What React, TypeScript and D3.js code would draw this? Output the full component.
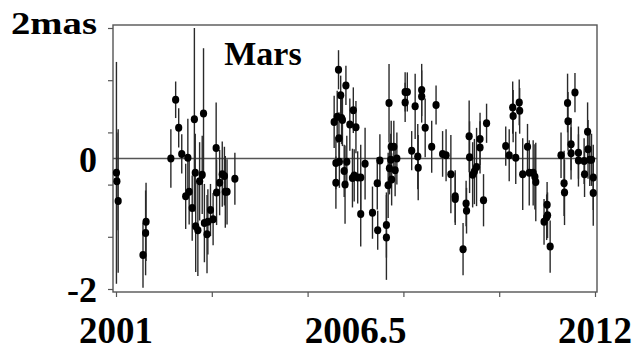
import * as d3 from 'd3';
import { useEffect, useRef } from 'react';

const TITLE = 'Mars';

// observation epochs (years)
const years: number[] = [
    2001.01, 2001.02, 2001.05,
    2001.62, 2001.68, 2001.69,
    2002.26, 2002.37, 2002.44, 2002.51, 2002.60, 2002.65, 2002.68, 2002.75, 2002.80, 2002.82,
    2002.83, 2002.88, 2002.92, 2002.98, 2003.01, 2003.03, 2003.09, 2003.11, 2003.17, 2003.23,
    2003.30, 2003.31, 2003.38, 2003.44, 2003.49, 2003.51, 2003.55, 2003.73,
    2006.01, 2006.05, 2006.05, 2006.08, 2006.11, 2006.12, 2006.13, 2006.16, 2006.18, 2006.20,
    2006.24, 2006.26, 2006.28, 2006.30, 2006.37, 2006.43, 2006.45, 2006.47, 2006.51, 2006.55,
    2006.62, 2006.62, 2006.72, 2006.89, 2007.00, 2007.01, 2007.06, 2007.21, 2007.21, 2007.25,
    2007.27, 2007.28, 2007.31, 2007.32, 2007.33, 2007.38, 2007.41, 2007.45, 2007.64, 2007.64,
    2007.69, 2007.79, 2007.87, 2007.93, 2007.94,
    2008.02, 2008.02, 2008.10, 2008.25, 2008.35, 2008.50, 2008.58, 2008.69, 2008.79, 2008.79,
    2008.97, 2009.04, 2009.05, 2009.11, 2009.12, 2009.19, 2009.23, 2009.28, 2009.36, 2009.36,
    2009.44, 2009.51,
    2009.95, 2010.03, 2010.11, 2010.12, 2010.18, 2010.26, 2010.27, 2010.34, 2010.45, 2010.49,
    2010.58, 2010.62, 2010.64, 2010.83, 2010.89, 2010.90, 2010.91, 2010.97, 2011.22, 2011.29,
    2011.30, 2011.37, 2011.38, 2011.45, 2011.45, 2011.54, 2011.62, 2011.62, 2011.75, 2011.76,
    2011.83, 2011.84, 2011.88, 2011.92, 2011.96, 2011.96,
];

// residuals (mas)
const values: number[] = [
    -0.22, -0.35, -0.65,
    -1.48, -1.14, -0.97,
    0.0, 0.9, 0.47, 0.07, -0.58, 0.01, -0.51, -0.76, 0.6, -0.22,
    -1.04, -1.1, -0.35, -0.25, 0.69, -0.99, -1.16, -0.97, -0.79, -0.93,
    0.16, -0.52, -0.37, -0.24, -0.27, -0.51, -0.51, -0.31,
    0.56, -0.07, -0.37, 0.64, 1.36, 0.31, -0.05, 0.97, 0.62, 0.59,
    -0.19, -0.4, 1.12, -0.05, 0.52, -0.3, 0.74, -0.26, 0.48, -0.29,
    -0.29, -0.85, -0.08, -0.83, -0.38, -1.1, -0.03, -1.02, -1.21, -0.41,
    0.85, -0.15, -0.02, 0.18, -0.32, 0.18, -0.18, 0.0, 1.02, 0.86,
    1.02, 0.12, 0.8, 0.03, -0.14,
    1.05, 0.95, 0.47, 0.18, 0.82, 0.07, 0.05, -0.24, -0.58, -0.62,
    -1.39, -0.69, -0.8, 0.34, 0.02, -0.25, -0.2, -0.13, 0.17, 0.3,
    -0.64, 0.54,
    0.19, 0.05, 0.78, 0.65, 0.01, 0.86, 0.73, -0.24, 0.18, -0.22,
    -0.22, -0.28, -0.36, -0.97, -0.9, -0.71, -0.87, -1.35, 0.05, -0.38,
    -0.52, 0.85, 0.57, 0.22, 0.08, 1.01, 0.09, -0.03, -0.04, -0.24,
    0.41, 0.14, -0.02, -0.02, -0.29, -0.53,
];

// half-length of error bars (mas)
const errors: number[] = [
    1.7, 0.75, 1.1,
    0.5, 0.65, 0.6,
    0.45, 0.28, 0.3, 0.3, 0.5, 0.6, 0.5, 0.5, 1.4, 0.6,
    0.7, 0.7, 0.6, 0.6, 1.0, 0.6, 0.6, 0.5, 0.4, 0.4,
    0.7, 0.5, 0.5, 0.5, 0.45, 0.55, 0.5, 0.4,
    0.4, 0.4, 0.4, 0.4, 0.3, 0.4, 0.4, 0.3, 0.4, 0.4,
    0.4, 0.6, 0.3, 0.4, 0.4, 0.45, 0.35, 0.4, 0.4, 0.4,
    0.5, 0.5, 0.55, 0.4, 0.4, 0.3, 0.4, 0.5, 0.65, 0.5,
    0.6, 0.4, 0.4, 0.4, 0.4, 0.4, 0.4, 0.4, 0.3, 0.3,
    0.3, 0.3, 0.5, 0.5, 0.5,
    0.4, 0.4, 0.45, 0.4, 0.3, 0.35, 0.4, 0.6, 0.4, 0.4,
    0.4, 0.35, 0.35, 0.55, 0.55, 0.5, 0.5, 0.6, 0.4, 0.4,
    0.4, 0.3,
    0.3, 0.4, 0.4, 0.4, 0.4, 0.35, 0.35, 0.55, 0.35, 0.5,
    0.5, 0.5, 0.6, 0.35, 0.35, 0.35, 0.35, 0.4, 0.35, 0.5,
    0.5, 0.45, 0.45, 0.4, 0.4, 0.3, 0.4, 0.4, 0.35, 0.35,
    0.45, 0.45, 0.4, 0.4, 0.5, 0.5,
];

const xTickValues = [2001, 2003.2, 2005.4, 2007.6, 2009.8, 2012];
const yTickValues = [2, 1.2, 0.4, -0.4, -1.2, -2];
const xLabels = [2001, 2006.5, 2012];
const yLabels = [2, 0, -2];

const FONT = '"Liberation Serif", "Times New Roman", serif';

export default function App() {
    const ref = useRef<any>();

    useEffect(() => {
        const svg = d3.select<any, any>(ref.current);
        svg.selectAll('*').remove();

        const frame = { left: 113, right: 597, top: 25, bottom: 292 };

        const xScale = d3.scaleLinear().domain([2001, 2012]).range([116, 595]);
        const yScale = d3.scaleLinear().domain([-2, 2]).range([289, 28]);

        const data = years.map((yr, i) => ({ yr, v: values[i], e: errors[i] }));

        // frame
        svg.append('rect')
            .attr('x', frame.left)
            .attr('y', frame.top)
            .attr('width', frame.right - frame.left)
            .attr('height', frame.bottom - frame.top)
            .attr('fill', 'none')
            .attr('stroke', '#555')
            .attr('stroke-width', 1.4);

        // ticks
        const yAxis = d3.axisLeft(yScale).tickValues(yTickValues).tickSize(5).tickFormat(() => '');
        const ya = svg.append('g').attr('transform', `translate(${frame.left},0)`).call(yAxis);
        ya.select('.domain').remove();
        ya.selectAll('line').attr('stroke', '#555').attr('stroke-width', 1.2);

        const xAxis = d3.axisBottom(xScale).tickValues(xTickValues).tickSize(5).tickFormat(() => '');
        const xa = svg.append('g').attr('transform', `translate(0,${frame.bottom})`).call(xAxis);
        xa.select('.domain').remove();
        xa.selectAll('line').attr('stroke', '#555').attr('stroke-width', 1.2);

        // zero line
        svg.append('line')
            .attr('x1', frame.left)
            .attr('x2', frame.right)
            .attr('y1', yScale(0))
            .attr('y2', yScale(0))
            .attr('stroke', '#555')
            .attr('stroke-width', 1.4);

        // error bars
        svg.append('g').selectAll('line').data(data).join('line')
            .attr('x1', (d: any) => xScale(d.yr))
            .attr('x2', (d: any) => xScale(d.yr))
            .attr('y1', (d: any) => yScale(Math.min(2, d.v + d.e)))
            .attr('y2', (d: any) => yScale(d.v - d.e))
            .attr('stroke', '#2a2a2a')
            .attr('stroke-width', 1.4);

        // points
        svg.append('g').selectAll('ellipse').data(data).join('ellipse')
            .attr('cx', (d: any) => xScale(d.yr))
            .attr('cy', (d: any) => yScale(d.v))
            .attr('rx', 3.6)
            .attr('ry', 4)
            .attr('fill', '#000');

        // y labels
        svg.append('g').selectAll('text').data(yLabels).join('text')
            .attr('x', 97)
            .attr('y', (d: number) => yScale(d) + (d === 2 ? 6 : 13))
            .attr('text-anchor', 'end')
            .attr('font-family', FONT)
            .attr('font-weight', 'bold')
            .attr('font-size', (d: number) => (d === 2 ? 31 : 36))
            .attr('textLength', (d: number) => (d === 2 ? 86 : null))
            .attr('lengthAdjust', 'spacingAndGlyphs')
            .text((d: number) => (d === 2 ? '2mas' : d3.format('d')(d).replace('−', '-')));

        // x labels
        svg.append('g').selectAll('text').data(xLabels).join('text')
            .attr('x', (d: number) => xScale(d))
            .attr('y', 343)
            .attr('text-anchor', 'middle')
            .attr('font-family', FONT)
            .attr('font-weight', 'bold')
            .attr('font-size', 37)
            .text((d: number) => String(d));

        // title
        svg.append('text')
            .attr('x', 263)
            .attr('y', 65)
            .attr('text-anchor', 'middle')
            .attr('font-family', FONT)
            .attr('font-weight', 'bold')
            .attr('font-size', 34)
            .text(TITLE);
    }, []);

    return (
        <div>
            <svg ref={ref} width={636} height={351}
                style={{ position: 'absolute', left: 0, top: 0, background: '#fff' }}></svg>
        </div>
    );
}
